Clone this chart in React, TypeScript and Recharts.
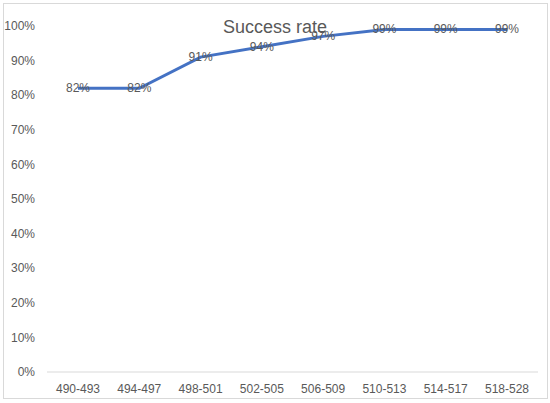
import React from 'react';
import { LineChart, Line, XAxis, YAxis, LabelList } from 'recharts';

const categories = ['490-493', '494-497', '498-501', '502-505', '506-509', '510-513', '514-517', '518-528'];
const successRate = [82, 82, 91, 94, 97, 99, 99, 99];
const yTicks = [0, 10, 20, 30, 40, 50, 60, 70, 80, 90, 100];

const data = categories.map((range, i) => ({ range, rate: successRate[i] }));

const FONT = '"Liberation Sans", Arial, sans-serif';
const GREY = '#595959';

function PointLabel(props: any) {
  const { x, y, value } = props;
  return (
    <text
      x={x}
      y={y}
      textAnchor="middle"
      dominantBaseline="central"
      fontFamily={FONT}
      fontSize={12}
      fill={GREY}
    >
      {value}%
    </text>
  );
}

export default function App() {
  return (
    <div style={{ position: 'absolute', left: 0, top: 0, width: 550, height: 403, background: '#fff' }}>
      <div
        style={{
          position: 'absolute',
          left: 3,
          top: 3,
          width: 545,
          height: 396,
          border: '1px solid #d9d9d9',
          boxSizing: 'border-box',
        }}
      />
      <LineChart
        width={550}
        height={403}
        data={data}
        margin={{ top: 26, right: 12, bottom: 1, left: 0 }}
        style={{ position: 'absolute', left: 0, top: 0 }}
      >
        <XAxis
          dataKey="range"
          height={30}
          padding={{ left: 31, right: 31 }}
          tickLine={false}
          axisLine={{ stroke: '#d9d9d9' }}
          tickMargin={6}
          tick={{ fontFamily: FONT, fontSize: 12, fill: GREY }}
          interval={0}
        />
        <YAxis
          width={47}
          domain={[0, 100]}
          ticks={yTicks}
          tickFormatter={(v: number) => `${v}%`}
          tickLine={false}
          axisLine={false}
          tickMargin={6}
          tick={{ fontFamily: FONT, fontSize: 12, fill: GREY }}
          interval={0}
        />
        <Line
          type="linear"
          dataKey="rate"
          stroke="#4472C4"
          strokeWidth={3}
          dot={false}
          isAnimationActive={false}
        >
          <LabelList dataKey="rate" content={<PointLabel />} />
        </Line>
      </LineChart>
      <div
        style={{
          position: 'absolute',
          left: 0,
          width: 550,
          top: 17,
          textAlign: 'center',
          fontFamily: FONT,
          fontSize: 18,
          lineHeight: '20px',
          color: GREY,
          pointerEvents: 'none',
        }}
      >
        Success rate
      </div>
    </div>
  );
}
